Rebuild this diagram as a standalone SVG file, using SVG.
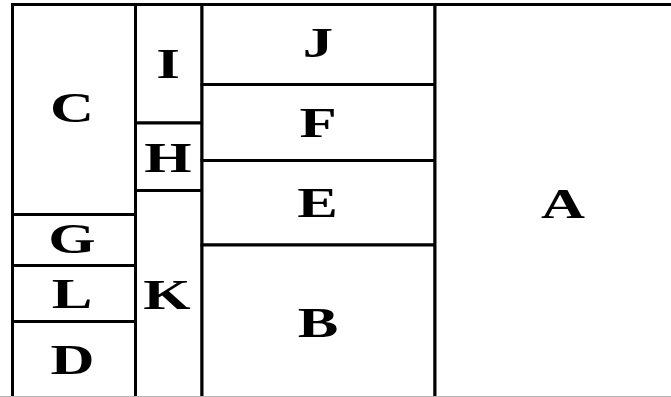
<svg xmlns="http://www.w3.org/2000/svg" width="671" height="397" viewBox="0 0 671 397">
<style>
.cell{fill:#ffffff;stroke:#000000;stroke-width:3}
.lbl{font-family:"Liberation Serif","Times New Roman",serif;font-weight:bold;font-size:42px;fill:#000000;text-anchor:middle}
</style>
<rect x="0" y="0" width="671" height="397" fill="#ffffff"/>
<g id="C"><rect class="cell" x="12.5" y="4.5" width="123" height="210"/><text class="lbl" transform="translate(72,122) scale(1.45,1)">C</text></g>
<g id="G"><rect class="cell" x="12.5" y="214.5" width="123" height="51"/><text class="lbl" transform="translate(72,253) scale(1.45,1)">G</text></g>
<g id="L"><rect class="cell" x="12.5" y="265.5" width="123" height="56"/><text class="lbl" transform="translate(72,307.5) scale(1.45,1)">L</text></g>
<g id="D"><rect class="cell" x="12.5" y="321.5" width="123" height="79"/><text class="lbl" transform="translate(72.5,374) scale(1.45,1)">D</text></g>
<g id="I"><rect class="cell" x="135.5" y="4.5" width="66.5" height="118.5"/><text class="lbl" transform="translate(168,78) scale(1.45,1)">I</text></g>
<g id="H"><rect class="cell" x="135.5" y="123" width="66.5" height="67.5"/><text class="lbl" transform="translate(168,172) scale(1.45,1)">H</text></g>
<g id="K"><rect class="cell" x="135.5" y="190.5" width="66.5" height="210"/><text class="lbl" transform="translate(167,309) scale(1.45,1)">K</text></g>
<g id="J"><rect class="cell" x="202" y="4.5" width="233" height="80"/><text class="lbl" transform="translate(318,57) scale(1.45,1)">J</text></g>
<g id="F"><rect class="cell" x="202" y="84.5" width="233" height="76"/><text class="lbl" transform="translate(318,136.5) scale(1.45,1)">F</text></g>
<g id="E"><rect class="cell" x="202" y="160.5" width="233" height="84.5"/><text class="lbl" transform="translate(317.5,216.5) scale(1.45,1)">E</text></g>
<g id="B"><rect class="cell" x="202" y="245" width="233" height="156"/><text class="lbl" transform="translate(318,336.5) scale(1.45,1)">B</text></g>
<g id="A"><rect class="cell" x="435" y="4.5" width="300" height="396"/><text class="lbl" transform="translate(563,218) scale(1.45,1)">A</text></g>
<line x1="0" y1="396.5" x2="671" y2="396.5" stroke="#b4b4b4" stroke-width="1"/>
</svg>
